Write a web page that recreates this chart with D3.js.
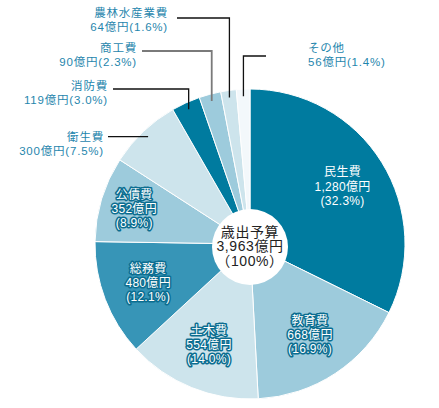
<!DOCTYPE html>
<html>
<head>
<meta charset="utf-8">
<script src="https://cdn.jsdelivr.net/npm/d3@7"></script>
<style>
  body { margin: 0; background: #fff; }
  svg { display: block; font-family: "Liberation Sans", "Noto Sans CJK JP", sans-serif; }
</style>
</head>
<body>
<svg id="chart" width="439" height="408"></svg>
<script>
// 歳出予算の内訳 (億円)
const categories = ["民生費", "教育費", "土木費", "総務費", "公債費", "衛生費", "消防費", "商工費", "農林水産業費", "その他"];
const values = [1280, 668, 554, 480, 352, 300, 119, 90, 64, 56];
const amountLabels = ["1,280億円", "668億円", "554億円", "480億円", "352億円", "300億円", "119億円", "90億円", "64億円", "56億円"];
const pctLabels = ["32.3%", "16.9%", "14.0%", "12.1%", "8.9%", "7.5%", "3.0%", "2.3%", "1.6%", "1.4%"];
const totalLabel = ["歳出予算", "3,963億円", "（100%）"];

const colors = ["#007b9f", "#9dcbdc", "#cde4ec", "#3795b7", "#9dcbdc", "#cde4ec", "#007b9f", "#9dcbdc", "#cde4ec", "#f3f8fb"];

const cx = 250, cy = 244, radius = 155;
const svg = d3.select("#chart");
const g = svg.append("g").attr("transform", `translate(${cx},${cy})`);

const data = categories.map((c, i) => ({ name: c, value: values[i], amount: amountLabels[i], pct: pctLabels[i], i }));
const pie = d3.pie().sort(null).value(d => d.value);
const arcs = pie(data);

const arc = d3.arc().innerRadius(0).outerRadius(radius);

g.selectAll("path.slice")
  .data(arcs)
  .enter().append("path")
  .attr("class", "slice")
  .attr("d", arc)
  .attr("fill", d => colors[d.data.i])
  .attr("stroke", "#fff")
  .attr("stroke-width", 1);

// center white circle
g.append("circle").attr("cx", 0).attr("cy", 3).attr("r", 38).attr("fill", "#fff");
const ct = g.append("text").attr("text-anchor", "middle").attr("fill", "#222")
  .style("font-size", "14px").style("letter-spacing", "0.6px");
totalLabel.forEach((t, k) => {
  ct.append("tspan").attr("x", 0).attr("y", -12 + k * 14.5).attr("dy", "0.35em").text(t);
});

// labels inside the big slices
const labelRadius = { "公債費": 121 };
const inside = arcs.filter(d => d.data.i <= 4);
inside.forEach(d => {
  const r = labelRadius[d.data.name] || 109;
  const a = (d.startAngle + d.endAngle) / 2;
  const x = r * Math.sin(a), y = -r * Math.cos(a);
  const t = g.append("text")
    .attr("text-anchor", "middle")
    .attr("fill", "#fff")
    .style("font-size", "12px")
    .style("letter-spacing", "0.3px")
    .style("paint-order", "stroke")
    .attr("stroke", d.data.i === 0 ? "none" : "#0b6d90")
    .attr("stroke-width", 3)
    .attr("stroke-linejoin", "round");
  [d.data.name, d.data.amount, "(" + d.data.pct + ")"].forEach((s, k) => {
    t.append("tspan").attr("x", x).attr("y", y + (k - 1) * 14.2).attr("dy", "0.35em").text(s);
  });
});

// outside labels with leader lines (positions in page coords)
const outside = {
  "衛生費":     { tx: 104, ty: 137, anchor: "end",   lineY: null, lx: 108 },
  "消防費":     { tx: 108, ty: 86,  anchor: "end",   lineY: 89,  lx: 113 },
  "商工費":     { tx: 137, ty: 48,  anchor: "end",   lineY: 51,  lx: 142, grey: true },
  "農林水産業費": { tx: 168, ty: 13,  anchor: "end",   lineY: 18,  lx: 177 },
  "その他":     { tx: 308, ty: 48,  anchor: "start", lineY: 56,  lx: 266 }
};
const lines = svg.append("g");
const labels = svg.append("g").attr("fill", "#1f86ad")
  .style("font-size", "11.5px").style("letter-spacing", "0.8px");

arcs.filter(d => d.data.i >= 5).forEach(d => {
  const o = outside[d.data.name];
  const a = (d.startAngle + d.endAngle) / 2;
  const ex = cx + 148 * Math.sin(a), ey = cy - 148 * Math.cos(a);
  const pts = o.lineY === null
    ? [[o.lx, ey], [ex, ey]]
    : [[o.lx, o.lineY], [ex, o.lineY], [ex, ey]];
  lines.append("path")
    .attr("d", d3.line()(pts))
    .attr("fill", "none")
    .attr("stroke", o.grey ? "#7a7a7a" : "#111")
    .attr("stroke-width", o.grey ? 1.8 : 1.3);
  const t = labels.append("text").attr("text-anchor", o.anchor);
  t.append("tspan").attr("x", o.tx).attr("y", o.ty).attr("dy", "0.35em").text(d.data.name);
  t.append("tspan").attr("x", o.tx).attr("y", o.ty + 13.5).attr("dy", "0.35em").text(d.data.amount + "(" + d.data.pct + ")");
});
</script>
</body>
</html>
